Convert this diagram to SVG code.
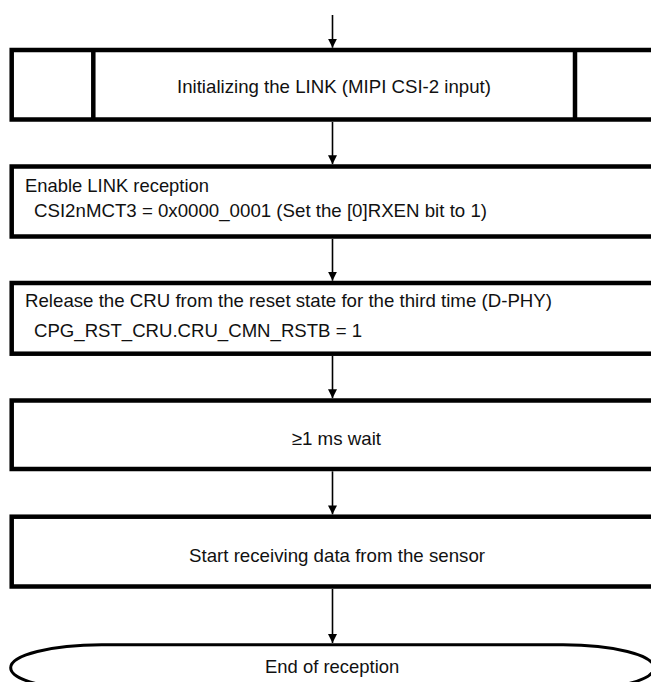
<svg xmlns="http://www.w3.org/2000/svg" width="651" height="682" viewBox="0 0 651 682">
<style>
.box{fill:#fff;stroke:#000;stroke-width:4.5}
.div{stroke:#000;stroke-width:4.5}
.term{fill:#fff;stroke:#000;stroke-width:3}
.t{font-family:"Liberation Sans",Arial,sans-serif;font-size:19px;fill:#111}
.con line{stroke:#000;stroke-width:1.6}
</style>
<defs>
<marker id="ah" viewBox="0 0 10 10" refX="10" refY="5" markerWidth="9" markerHeight="9" markerUnits="userSpaceOnUse" orient="auto">
<path d="M0,0 L10,5 L0,10 Z" fill="#000"/>
</marker>
</defs>
<rect width="651" height="682" fill="#fff"/>
<g id="connectors" class="con">
<line x1="332.5" y1="15" x2="332.5" y2="47.7" marker-end="url(#ah)"/>
<line x1="332.5" y1="122" x2="332.5" y2="164.2" marker-end="url(#ah)"/>
<line x1="332.5" y1="239" x2="332.5" y2="280.7" marker-end="url(#ah)"/>
<line x1="332.5" y1="356" x2="332.5" y2="398.2" marker-end="url(#ah)"/>
<line x1="332.5" y1="471.3" x2="332.5" y2="514.4" marker-end="url(#ah)"/>
<line x1="332.5" y1="589" x2="332.5" y2="643" marker-end="url(#ah)"/>
</g>
<g id="n1">
<rect class="box" x="11.7" y="50" width="644" height="69.5"/>
<line class="div" x1="93.3" y1="50" x2="93.3" y2="119.5"/>
<line class="div" x1="575" y1="50" x2="575" y2="119.5"/>
<text class="t" x="177" y="92.7" textLength="314" lengthAdjust="spacingAndGlyphs">Initializing the LINK (MIPI CSI-2 input)</text>
</g>
<g id="n2">
<rect class="box" x="11.7" y="166.5" width="644" height="70"/>
<text class="t" x="25" y="192" textLength="184" lengthAdjust="spacingAndGlyphs">Enable LINK reception</text>
<text class="t" x="34" y="217.3" textLength="453" lengthAdjust="spacingAndGlyphs">CSI2nMCT3 = 0x0000_0001 (Set the [0]RXEN bit to 1)</text>
</g>
<g id="n3">
<rect class="box" x="11.7" y="283" width="644" height="70.7"/>
<text class="t" x="25" y="307" textLength="527" lengthAdjust="spacingAndGlyphs">Release the CRU from the reset state for the third time (D-PHY)</text>
<text class="t" x="34" y="336.7" textLength="328" lengthAdjust="spacingAndGlyphs">CPG_RST_CRU.CRU_CMN_RSTB = 1</text>
</g>
<g id="n4">
<rect class="box" x="11.7" y="400.5" width="644" height="68.5"/>
<text class="t" x="291.7" y="444.5" textLength="89.3" lengthAdjust="spacingAndGlyphs">≥1 ms wait</text>
</g>
<g id="n5">
<rect class="box" x="11.7" y="516.7" width="644" height="69.8"/>
<text class="t" x="189" y="562" textLength="296" lengthAdjust="spacingAndGlyphs">Start receiving data from the sensor</text>
</g>
<g id="n6">
<path class="term" d="M101.7,644.7 H563 A91,23 0 0 1 563,690.7 H101.7 A91,23 0 0 1 101.7,644.7 Z"/>
<text class="t" x="265" y="673.3" textLength="134.3" lengthAdjust="spacingAndGlyphs">End of reception</text>
</g>
</svg>
